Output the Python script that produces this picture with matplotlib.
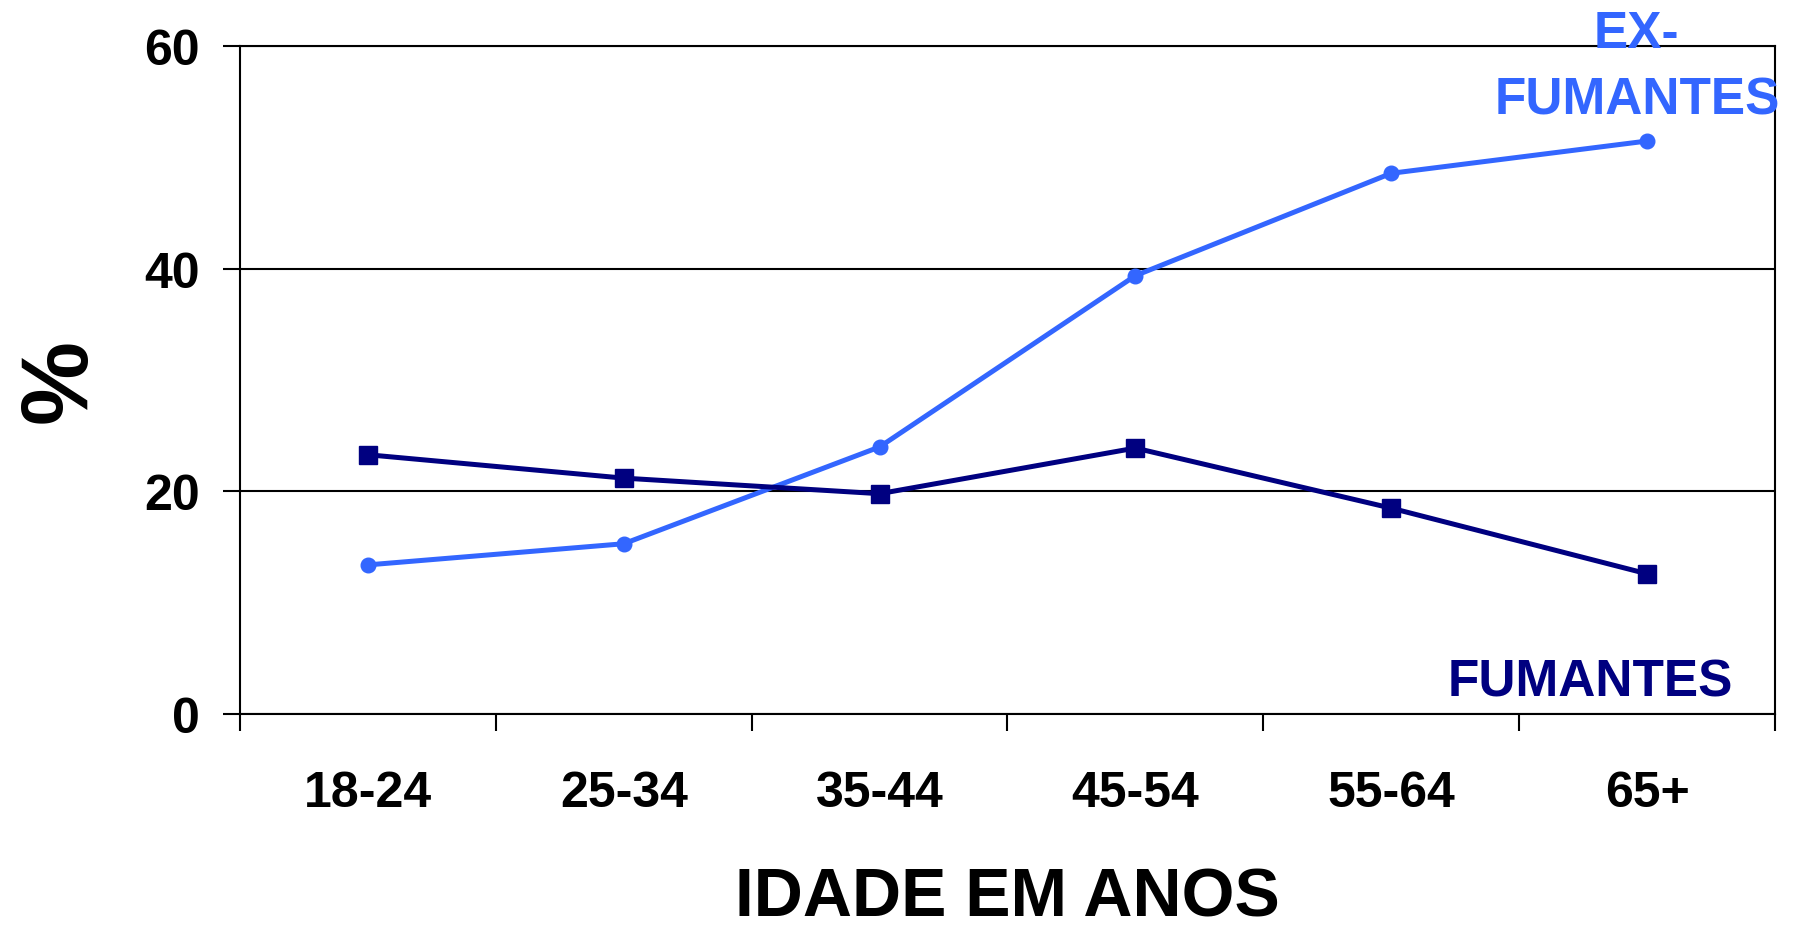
import matplotlib.pyplot as plt

AGE_GROUPS = ["18-24", "25-34", "35-44", "45-54", "55-64", "65+"]
EX_SMOKERS = [13.4, 15.3, 24.0, 39.4, 48.6, 51.5]
SMOKERS = [23.3, 21.2, 19.8, 23.9, 18.5, 12.6]
Y_TICKS = [0, 20, 40, 60]

LIGHT_BLUE = "#3366ff"
NAVY = "#000080"

plt.rcParams["font.family"] = ["Liberation Sans", "DejaVu Sans"]
plt.rcParams["font.weight"] = "bold"


def chart_smoking(ax):
    x = list(range(len(AGE_GROUPS)))
    ax.plot(x, EX_SMOKERS, color=LIGHT_BLUE, lw=3.6, marker="o", ms=10.5, zorder=3)
    ax.plot(x, SMOKERS, color=NAVY, lw=3.6, marker="s", ms=12.5, zorder=4)

    ax.set_xlim(-0.5, len(AGE_GROUPS) - 0.5)
    ax.set_ylim(0, 60)
    ax.set_yticks(Y_TICKS)
    ax.set_yticklabels([str(v) for v in Y_TICKS], fontsize=36, fontweight="bold")
    ax.set_xticks(x)
    ax.set_xticklabels(AGE_GROUPS, fontsize=36, fontweight="bold")
    # category boundaries carry the tick marks, labels sit between them
    ax.set_xticks([i - 0.5 for i in range(len(AGE_GROUPS) + 1)], minor=True)
    ax.tick_params(axis="x", which="major", length=0, pad=40)
    ax.tick_params(axis="x", which="minor", length=12, width=1.5, direction="out")
    ax.tick_params(axis="y", length=12, width=1.5, direction="out", pad=17)

    ax.yaxis.grid(True, color="black", lw=1.5)
    ax.set_axisbelow(True)
    for spine in ax.spines.values():
        spine.set_linewidth(1.5)
        spine.set_color("black")

    ax.set_xlabel("IDADE EM ANOS", fontsize=49, fontweight="bold", labelpad=36)
    ax.set_ylabel("%", fontsize=68, fontweight="bold", labelpad=28)

    ax.text(0.91, 0.999, "EX-", transform=ax.transAxes, ha="center", va="baseline",
            fontsize=37, fontweight="bold", color=LIGHT_BLUE, clip_on=False, zorder=10)
    ax.text(0.91, 0.900, "FUMANTES", transform=ax.transAxes, ha="center", va="baseline",
            fontsize=37, fontweight="bold", color=LIGHT_BLUE, clip_on=False, zorder=10)
    ax.text(0.88, 0.027, "FUMANTES", transform=ax.transAxes, ha="center", va="baseline",
            fontsize=37, fontweight="bold", color=NAVY, zorder=10)


def main():
    fig = plt.figure(figsize=(17.96, 9.29), dpi=100)
    ax = fig.add_axes([0.1336, 0.2304, 0.8547, 0.7185])
    chart_smoking(ax)
    fig.savefig("out.png", dpi=100)


if __name__ == "__main__":
    main()
